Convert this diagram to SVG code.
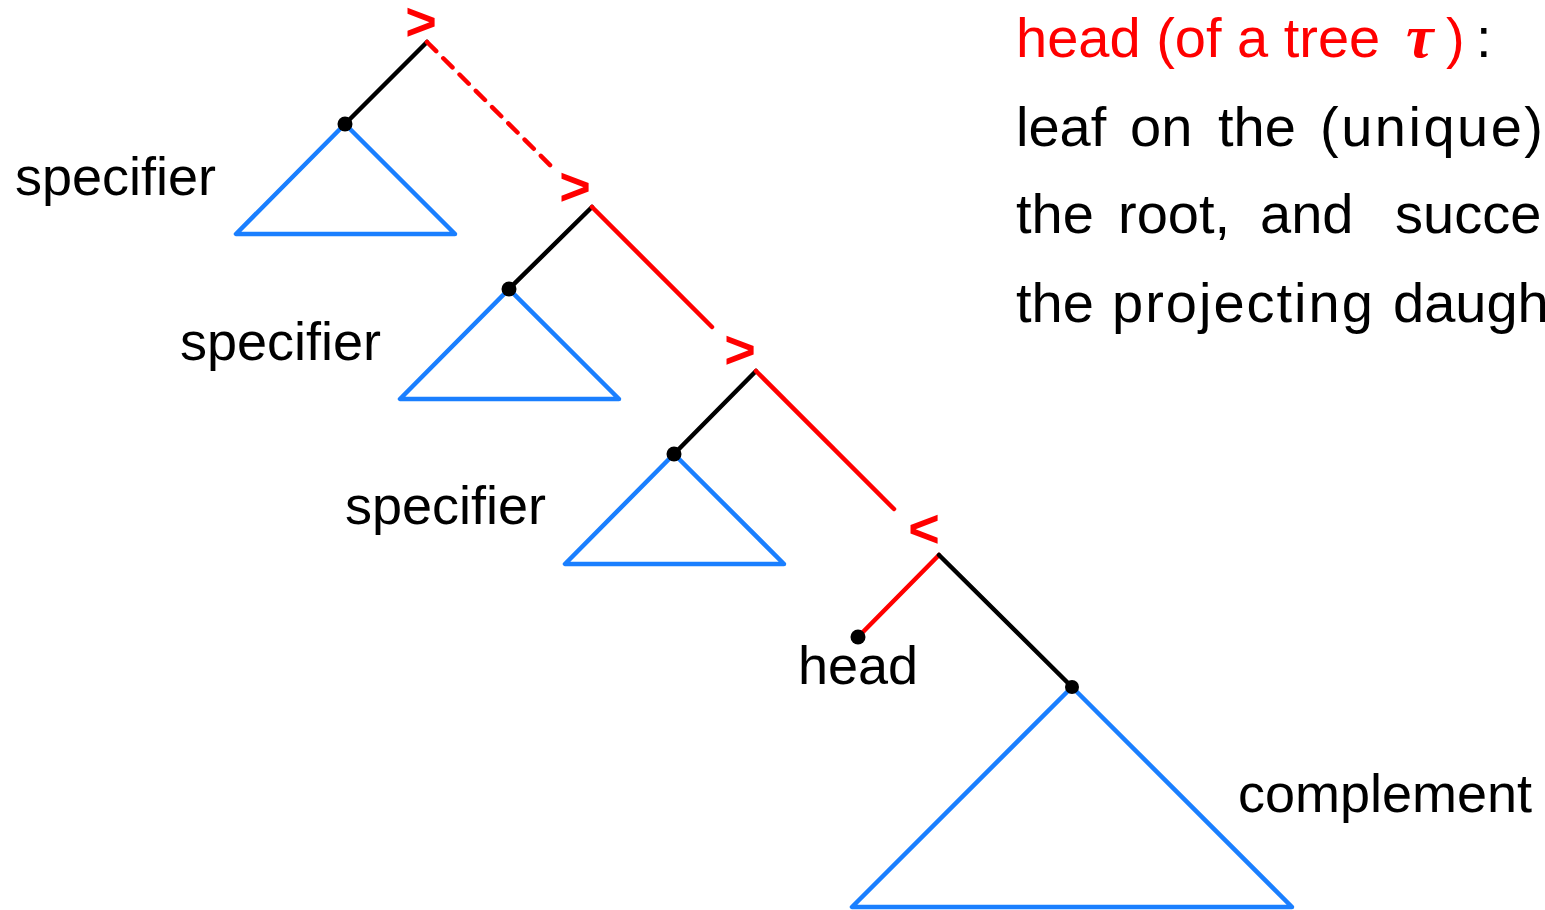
<svg xmlns="http://www.w3.org/2000/svg" width="1545" height="910" viewBox="0 0 1545 910">
<style>
.t{font-family:"Liberation Sans",Arial,sans-serif;font-size:54px;fill:#000}
.r{font-family:"Liberation Sans",Arial,sans-serif;font-size:56px;fill:#000}
.op{font-family:"Liberation Sans",Arial,sans-serif;font-size:54px;font-weight:bold;fill:#ff0000;text-anchor:middle}
.blk{stroke:#000;stroke-width:4.5;fill:none;stroke-linecap:round}
.red{stroke:#ff0000;stroke-width:4.5;fill:none;stroke-linecap:round}
.tri{stroke:#1a7fff;stroke-width:4.5;fill:none;stroke-linejoin:round}
.dot{fill:#000}
</style>
<rect width="1545" height="910" fill="#fff"/>
<g id="connectors">
  <line class="blk" x1="427" y1="42" x2="345" y2="124"/>
  <line class="red" x1="427" y1="42" x2="553" y2="168" stroke-dasharray="13 10" stroke-linecap="butt"/>
  <line class="blk" x1="592" y1="207" x2="509" y2="289"/>
  <line class="red" x1="592" y1="207" x2="712" y2="327"/>
  <line class="blk" x1="756" y1="371" x2="674" y2="454"/>
  <line class="red" x1="756" y1="371" x2="894" y2="509"/>
  <line class="red" x1="939" y1="555" x2="858" y2="637"/>
  <line class="blk" x1="939" y1="555" x2="1072" y2="687"/>
</g>
<g id="op1"><text class="op" x="421" y="40">&gt;</text></g>
<g id="op2"><text class="op" x="575" y="205">&gt;</text></g>
<g id="op3"><text class="op" x="740" y="368">&gt;</text></g>
<g id="op4"><text class="op" x="924" y="547">&lt;</text></g>
<g id="spec1">
  <polygon class="tri" points="345,124 236,234 455,234"/>
  <circle class="dot" cx="345" cy="124" r="7.5"/>
  <text class="t" x="15" y="195">specifier</text>
</g>
<g id="spec2">
  <polygon class="tri" points="509,289 400,399 619,399"/>
  <circle class="dot" cx="509" cy="289" r="7.5"/>
  <text class="t" x="180" y="360">specifier</text>
</g>
<g id="spec3">
  <polygon class="tri" points="674,454 565,564 784,564"/>
  <circle class="dot" cx="674" cy="454" r="7.5"/>
  <text class="t" x="345" y="524">specifier</text>
</g>
<g id="head">
  <circle class="dot" cx="858" cy="637" r="7.5"/>
  <text class="t" x="798" y="684">head</text>
</g>
<g id="complement">
  <polygon class="tri" points="1072,687 852,907 1292,907"/>
  <circle class="dot" cx="1072" cy="687" r="7"/>
  <text class="t" x="1238" y="812">complement</text>
</g>
<g id="definition">
  <text class="r" y="57"><tspan x="1016" fill="#ff0000">head (of a tree</tspan><tspan x="1406" fill="#ff0000" font-family="'Liberation Serif','Times New Roman',serif" font-style="italic" font-weight="bold" font-size="62">τ</tspan><tspan x="1446" fill="#ff0000">)</tspan><tspan x="1476">:</tspan></text>
  <text class="r" y="146"><tspan x="1016">leaf</tspan><tspan x="1130">on</tspan><tspan x="1218">the</tspan><tspan x="1320" letter-spacing="2.5">(unique)</tspan></text>
  <text class="r" y="233"><tspan x="1016">the</tspan><tspan x="1118">root,</tspan><tspan x="1260">and</tspan><tspan x="1395">succe</tspan></text>
  <text class="r" y="322"><tspan x="1016">the</tspan><tspan x="1112" letter-spacing="2">projecting</tspan><tspan x="1393">daugh</tspan></text>
</g>
</svg>
